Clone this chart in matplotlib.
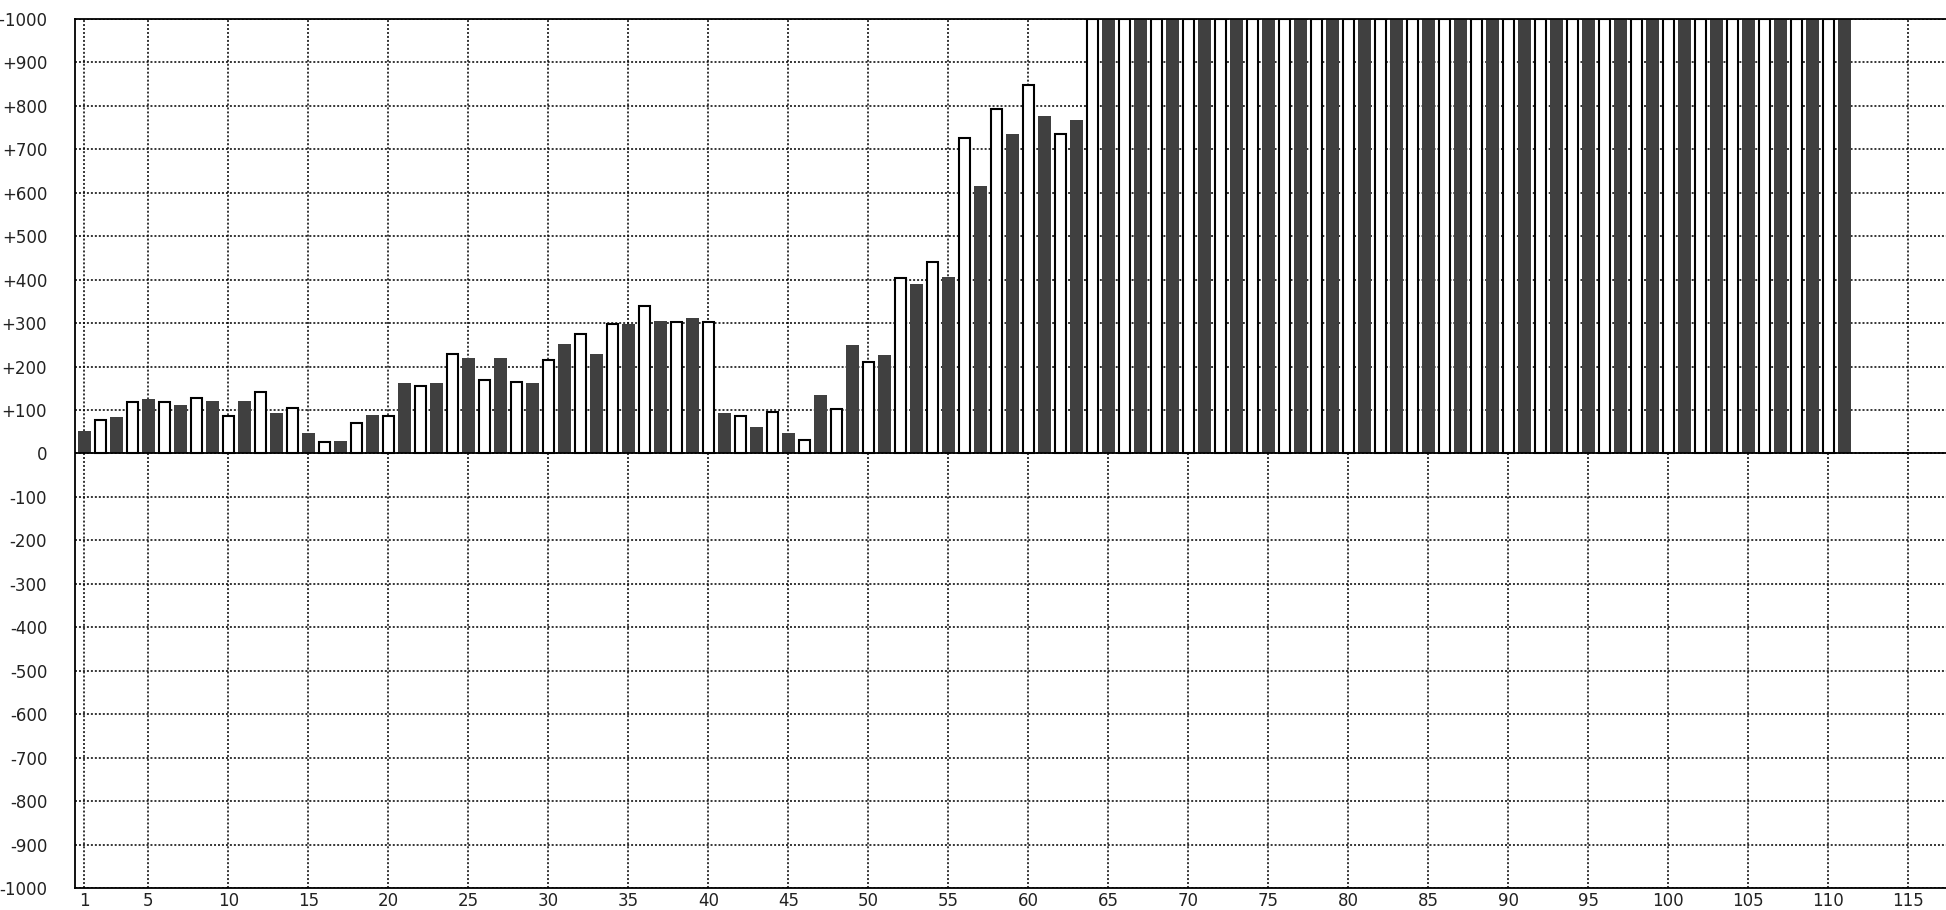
import matplotlib
matplotlib.use("Agg")
import matplotlib.pyplot as plt
import numpy as np

# ---- data ----
dark_x = list(range(1, 112, 2))
dark_values = [52, 84, 125, 111, 121, 121, 93, 47, 28, 88,
               163, 163, 219, 219, 163, 251, 228, 298, 306, 311,
               94, 62, 48, 135, 250, 227, 389, 407, 615, 735,
               777, 767,
               # bars 65..111 run past the top of the chart (clipped at +1000)
               1000, 1000, 1000, 1000, 1000, 1000, 1000, 1000, 1000, 1000,
               1000, 1000, 1000, 1000, 1000, 1000, 1000, 1000, 1000, 1000,
               1000, 1000, 1000, 1000]
white_x = list(range(2, 111, 2))
white_values = [77, 118, 118, 127, 86, 141, 104, 26, 71, 86,
                156, 230, 169, 165, 215, 276, 299, 340, 303, 303,
                86, 96, 30, 103, 210, 403, 440, 727, 792, 847,
                736,
                # bars 64..110 run past the top of the chart (clipped at +1000)
                1000, 1000, 1000, 1000, 1000, 1000, 1000, 1000, 1000, 1000,
                1000, 1000, 1000, 1000, 1000, 1000, 1000, 1000, 1000, 1000,
                1000, 1000, 1000, 1000]
x_ticks = [1] + list(range(5, 120, 5))
x_tick_labels = [str(t) for t in x_ticks]
y_ticks = list(range(-1000, 1001, 100))
y_tick_labels = [("+%d" % t if t > 0 else "%d" % t) for t in y_ticks]

# ---- figure ----
W, H = 1946, 910
fig = plt.figure(figsize=(W / 100, H / 100), dpi=100)
left_px, top_px, bottom_px = 75, 19, 888
ax = fig.add_axes([left_px / W, 1 - bottom_px / H, 1 - left_px / W, (bottom_px - top_px) / H])

ax.set_xlim(0.41, 117.35)
ax.set_ylim(-1000, 1000)

ax.bar(dark_x, dark_values, width=0.77, color="#404040", edgecolor="none", zorder=3)
ax.bar(white_x, white_values, width=0.70, color="white", edgecolor="black",
       linewidth=1.5, zorder=3)

ax.axhline(0, color="black", linewidth=1.3, zorder=4)

ax.set_xticks(x_ticks)
ax.set_xticklabels(x_tick_labels)
ax.set_yticks(y_ticks)
ax.set_yticklabels(y_tick_labels)

ax.grid(True, color="black", linestyle=(0, (1.3, 1.3)), linewidth=1.1, zorder=0)
ax.set_axisbelow(True)

ax.tick_params(axis="both", length=0, labelsize=12, colors="#222222")
ax.tick_params(axis="x", pad=3)
ax.tick_params(axis="y", pad=20)

for s in ["left", "top", "bottom"]:
    ax.spines[s].set_linewidth(1.3)
    ax.spines[s].set_color("black")
    ax.spines[s].set_zorder(5)
ax.spines["right"].set_visible(False)

fig.savefig("out.png", dpi=100)
